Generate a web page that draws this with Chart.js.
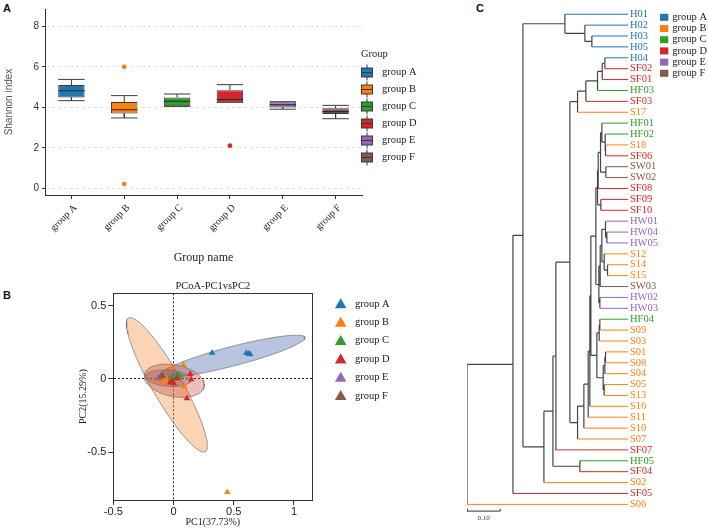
<!DOCTYPE html>
<html><head><meta charset="utf-8">
<script src="https://cdn.jsdelivr.net/npm/chart.js@4.4.0/dist/chart.umd.min.js"></script>
<style>
html,body{margin:0;padding:0;background:#fff;}
body{width:708px;height:529px;position:relative;overflow:hidden;}
.panel{position:absolute;}
.tag{position:absolute;font:bold 11px "Liberation Sans",Arial,sans-serif;color:#111;line-height:11px;}
</style></head><body>
<div class="tag" style="left:3px;top:3px">A</div>
<div class="tag" style="left:3px;top:290px">B</div>
<div class="tag" style="left:476px;top:3px">C</div>
<div class="panel" style="left:0;top:0;width:450px;height:275px"><canvas id="ca"></canvas></div>
<div class="panel" style="left:0;top:277px;width:450px;height:252px"><canvas id="cb"></canvas></div>
<div class="panel" style="left:440px;top:0;width:268px;height:529px"><canvas id="cc"></canvas></div>
<script>
// ---------- shared ----------
const groups = ['group A','group B','group C','group D','group E','group F'];
const groupColors = ['#1f77b4','#ff7f0e','#2ca02c','#d62728','#9467bd','#8c564b'];

// ---------- Panel A: Shannon index box plot ----------
const shannonMin    = [4.33, 3.48, 4.05, 4.25, 3.91, 3.44];
const shannonQ1     = [4.49, 3.70, 4.05, 4.25, 4.00, 3.67];
const shannonMedian = [4.82, 3.88, 4.30, 4.39, 4.13, 3.79];
const shannonQ3     = [5.10, 4.26, 4.49, 4.85, 4.25, 3.96];
const shannonMax    = [5.38, 4.58, 4.66, 5.12, 4.28, 4.10];
const outlierGroup  = [1, 1, 3];
const outlierValue  = [6.00, 0.22, 2.11];
const shannonRange  = [-0.32, 8.85];
const shannonStep   = 2;

// ---------- Panel B: PCoA ----------
const pcoaA = [[0.028,0.012],[0.321,0.178],[0.605,0.176],[0.625,0.172],[0.637,0.168]];
const pcoaB = [[-0.013,0.080],[0.083,0.095],[0.089,-0.052],[-0.083,-0.011],[-0.110,-0.018],[-0.069,0.016],
               [0.447,-0.772],[-0.095,-0.005],[-0.060,-0.002],[-0.100,0.008],[-0.075,0.005],[-0.120,-0.010]];
const pcoaC = [[0.041,0.027],[0.030,0.018],[-0.010,0.005]];
const pcoaD = [[0.138,0.034],[0.147,-0.002],[0.111,-0.132],[-0.013,-0.018],[0.028,0.005],[-0.030,-0.025],[0.002,-0.030]];
const pcoaE = [[-0.124,0.005],[-0.116,0.008],[-0.130,0.002]];
const pcoaF = [[-0.096,0.027],[-0.104,0.016],[-0.088,0.020]];
const pcoaPoints = [pcoaA, pcoaB, pcoaC, pcoaD, pcoaE, pcoaF];
// confidence ellipses: centre, semi-major vector, semi-minor vector (data units)
const ellipseCenter = [[0.490,0.155],[-0.055,-0.040],[0.015,0.012],[0.006,-0.012],[-0.120,0.006],[-0.044,0.005]];
const ellipseMajor  = [[0.601,0.1285],[0.318,-0.455],[0.060,0.008],[0.2486,-0.0409],[0.022,0.002],[0.190,-0.0136]];
const ellipseMinor  = [[0.0202,-0.064],[0.108,0.051],[-0.004,0.022],[-0.0249,-0.1057],[0.0,0.013],[-0.0058,-0.0545]];
const pc1Range = [-0.5, 1.152];
const pc2Range = [-0.825, 0.584];

// ---------- Panel C: dendrogram ----------
const leafLabels = ['H01','H02','H03','H05','H04','SF02','SF01','HF03','SF03','S17','HF01','HF02','S18','SF06',
  'SW01','SW02','SF08','SF09','SF10','HW01','HW04','HW05','S12','S14','S15','SW03','HW02','HW03','HF04','S09',
  'S03','S01','S08','S04','S05','S13','S16','S11','S10','S07','SF07','HF05','SF04','S02','SF05','S06'];
const treeDepth = 0.4835;
// [node, distance from root, child 1, child 2]
const treeNodes = [
 ['n0',0.000,'n1','S06'], ['n1',0.138,'n2','SF05'], ['n2',0.168,'nA','n3'],
 ['nA',0.294,'H01','nA2'], ['nA2',0.354,'H02','nA3'], ['nA3',0.375,'H03','H05'],
 ['n3',0.231,'n4','S02'], ['n4',0.258,'n5','n6'], ['n6',0.339,'HF05','SF04'],
 ['n5',0.267,'n7','SF07'], ['n7',0.309,'nB','nC'],
 ['nB',0.332,'nB2','S17'], ['nB2',0.357,'nB3','SF03'], ['nB3',0.392,'nB4','HF03'],
 ['nB4',0.406,'nB5','SF01'], ['nB5',0.414,'H04','SF02'],
 ['nC',0.332,'nD','S07'], ['nD',0.351,'nE','S10'], ['nE',0.364,'nF','S11'], ['nF',0.369,'nG','S16'],
 ['nG',0.372,'nP','nQ'], ['nP',0.387,'nP1','nP2'],
 ['nP1',0.392,'nP1a','nSF'], ['nSF',0.402,'SF09','SF10'], ['nP1a',0.394,'nP1b','SF08'],
 ['nP1b',0.401,'nP1c','nSW'], ['nSW',0.417,'SW01','SW02'], ['nP1c',0.405,'HF01','nHF'],
 ['nHF',0.415,'HF02','nS18'], ['nS18',0.416,'S18','SF06'],
 ['nP2',0.396,'nP2a','nHW23'], ['nHW23',0.399,'HW02','HW03'], ['nP2a',0.400,'nP2b','SW03'],
 ['nP2b',0.405,'nHW','nS12'], ['nHW',0.416,'HW01','nHW45'], ['nHW45',0.420,'HW04','HW05'],
 ['nS12',0.412,'S12','nS1415'], ['nS1415',0.422,'S14','S15'],
 ['nQ',0.390,'nQ1','nQ2'], ['nQ1',0.397,'nQ1a','S03'], ['nQ1a',0.399,'HF04','S09'],
 ['nQ2',0.409,'nQ2a','nQ2b'], ['nQ2a',0.414,'nQ2c','S04'], ['nQ2c',0.416,'S01','S08'], ['nQ2b',0.412,'S05','S13']
];
const scaleBarLength = 0.10;
const scaleBarRow = 45.62;

const SERIF = "'Liberation Serif','Times New Roman',serif";
const SANS = "'Liberation Sans',Arial,sans-serif";
Chart.defaults.animation = false;
Chart.defaults.events = [];
Chart.defaults.plugins.legend.display = false;
Chart.defaults.plugins.tooltip.enabled = false;
Chart.defaults.maintainAspectRatio = false;

// ===== Panel A =====
const whiskers = [], medians = [];
const hw = 0.25;
groups.forEach((g, i) => {
  whiskers.push({x:i,y:shannonQ3[i]},{x:i,y:shannonMax[i]},{x:i,y:null},
    {x:i-hw,y:shannonMax[i]},{x:i+hw,y:shannonMax[i]},{x:i,y:null},
    {x:i,y:shannonQ1[i]},{x:i,y:shannonMin[i]},{x:i,y:null},
    {x:i-hw,y:shannonMin[i]},{x:i+hw,y:shannonMin[i]},{x:i,y:null});
  medians.push({x:i-hw,y:shannonMedian[i]},{x:i+hw,y:shannonMedian[i]},{x:i,y:null});
});
const boxLegend = {
  id:'boxLegend',
  afterDraw(chart){
    const ctx = chart.ctx; ctx.save();
    ctx.font = '10.5px ' + SERIF; ctx.fillStyle = '#222'; ctx.textBaseline = 'middle';
    ctx.fillText('Group', 361, 54);
    groups.forEach((g, i) => {
      const cy = 72.5 + i * 17, cx = 367;
      ctx.strokeStyle = '#3a3a3a'; ctx.lineWidth = 1;
      ctx.beginPath(); ctx.moveTo(cx, cy - 8); ctx.lineTo(cx, cy + 8); ctx.stroke();
      ctx.fillStyle = groupColors[i]; ctx.fillRect(cx - 5.5, cy - 4.5, 11, 9);
      ctx.strokeRect(cx - 5.5, cy - 4.5, 11, 9);
      ctx.beginPath(); ctx.moveTo(cx - 5.5, cy); ctx.lineTo(cx + 5.5, cy); ctx.stroke();
      ctx.fillStyle = '#222'; ctx.fillText(g, 382, cy);
    });
    ctx.restore();
  }
};
new Chart(document.getElementById('ca'), {
  type:'bar',
  data:{ labels: groups, datasets:[
    {type:'bar', data: groups.map((g,i)=>[shannonQ1[i], shannonQ3[i]]), backgroundColor: groupColors,
     borderColor:'#3a3a3a', borderWidth:1, borderSkipped:false, barPercentage:0.5, categoryPercentage:1,
     grouped:false, order:2},
    {type:'line', xAxisID:'xl', data: whiskers, borderColor:'#3a3a3a', borderWidth:1, pointRadius:0, fill:false, spanGaps:false, order:1},
    {type:'line', xAxisID:'xl', data: medians, borderColor:'#2a2a2a', borderWidth:1.1, pointRadius:0, fill:false, spanGaps:false, order:0},
    {type:'scatter', xAxisID:'xl', data: outlierGroup.map((g,k)=>({x:g, y:outlierValue[k]})),
     pointBackgroundColor: outlierGroup.map(g=>groupColors[g]), pointBorderWidth:0, pointRadius:2.4, order:0}
  ]},
  plugins:[boxLegend],
  options:{
    layout:{padding:{left:0, top:3, right:88, bottom:0}},
    scales:{
      x:{type:'category', offset:true,
         grid:{offset:false, drawOnChartArea:false, drawTicks:true, tickLength:4, tickColor:'#333'},
         border:{color:'#333', width:1},
         ticks:{autoSkip:false, maxRotation:45, minRotation:45, padding:3, labelOffset:4, color:'#222', font:{family:SERIF, size:10}},
         title:{display:true, text:'Group name', color:'#222', font:{family:SERIF, size:12}, padding:{top:0, bottom:9.8}},
         afterFit:s=>{ s.height = 80; }},
      xl:{type:'linear', display:false, offset:false, min:-0.5, max:groups.length - 0.5, grid:{offset:false}},
      y:{type:'linear', min:shannonRange[0], max:shannonRange[1],
         ticks:{stepSize:shannonStep, includeBounds:false, color:'#333', padding:3, font:{family:SANS, size:10}},
         grid:{color:'#e2e2e2', tickColor:'#333', tickLength:3, lineWidth:1},
         border:{color:'#333', dash:[3,3]},
         title:{display:true, text:'Shannon index', color:'#555', font:{family:SANS, size:10}, padding:{top:3}},
         afterFit:s=>{ s.width = 45; }}
    }
  }
});

// ===== Panel B =====
function ellipsePoints(k){
  const pts = [];
  const c = ellipseCenter[k], u = ellipseMajor[k], v = ellipseMinor[k];
  for (let s = 0; s <= 96; s++) {
    const t = s / 96 * Math.PI * 2;
    pts.push({x: c[0] + u[0]*Math.cos(t) + v[0]*Math.sin(t), y: c[1] + u[1]*Math.cos(t) + v[1]*Math.sin(t)});
  }
  return pts;
}
const ellipseFill = ['rgba(70,100,170,0.38)','rgba(244,140,60,0.38)','rgba(44,160,44,0.30)',
                     'rgba(200,60,50,0.33)','rgba(148,103,189,0.35)','rgba(140,86,75,0.35)'];
const ellipseOrder = [15, 16, 12, 14, 11, 13];
const bDatasets = [];
groups.forEach((g, k) => {
  bDatasets.push({type:'line', data: ellipsePoints(k), showLine:true, fill:'shape', backgroundColor: ellipseFill[k],
    borderColor:'rgba(110,110,110,0.85)', borderWidth:0.8, pointRadius:0, tension:0, order: ellipseOrder[k]});
});
pcoaPoints.forEach((arr, k) => {
  bDatasets.push({type:'scatter', data: arr.map(p=>({x:p[0], y:p[1]})), pointStyle:'triangle', pointRadius:3.8,
    backgroundColor: groupColors[k], borderColor: groupColors[k], borderWidth:0, order: 6 - k});
});
const zeroGrid = c => (c.tick && c.tick.value === 0) ? '#222' : 'rgba(0,0,0,0)';
const plainNum = v => String(Number(v.toFixed(2)));
const triLegend = {
  id:'triLegend',
  afterDraw(chart){
    const ctx = chart.ctx; ctx.save();
    ctx.font = '10.5px ' + SERIF; ctx.textBaseline = 'middle';
    groups.forEach((g, i) => {
      const cx = 340.7, cy = 27 + i * 18.35, r = 6.7;
      ctx.fillStyle = groupColors[i];
      ctx.beginPath();
      for (let j = 0; j < 3; j++) {
        const a = j * 2 * Math.PI / 3;
        const px = cx + Math.sin(a) * r, py = cy - Math.cos(a) * r + 1;
        j ? ctx.lineTo(px, py) : ctx.moveTo(px, py);
      }
      ctx.closePath(); ctx.fill();
      ctx.fillStyle = '#222'; ctx.fillText(g, 355, cy);
    });
    ctx.restore();
  }
};
new Chart(document.getElementById('cb'), {
  type:'scatter',
  data:{datasets: bDatasets},
  plugins:[triLegend],
  options:{
    layout:{padding:{left:0, top:0, right:137.7, bottom:0}},
    plugins:{title:{display:true, text:'PCoA-PC1vsPC2', color:'#222', fullSize:false,
      font:{family:SERIF, size:10.5, weight:'normal'}, padding:{top:3.4, bottom:0.3}}},
    scales:{
      x:{type:'linear', min:pc1Range[0], max:pc1Range[1],
         ticks:{stepSize:0.5, includeBounds:false, color:'#222', padding:0, font:{family:SANS, size:11}, callback:plainNum},
         grid:{color:zeroGrid, tickColor:'#333', tickLength:5, lineWidth:1},
         border:{color:'#333', dash:[2,2]},
         title:{display:true, text:'PC1(37.73%)', color:'#222', font:{family:SERIF, size:10}, padding:{top:0, bottom:1.1}},
         afterFit:s=>{ s.height = 29; }},
      y:{type:'linear', min:pc2Range[0], max:pc2Range[1],
         ticks:{stepSize:0.5, includeBounds:false, color:'#222', padding:2, font:{family:SANS, size:11}, callback:plainNum},
         grid:{color:zeroGrid, tickColor:'#333', tickLength:5, lineWidth:1},
         border:{color:'#333', dash:[2,2]},
         title:{display:true, text:'PC2(15.29%)', color:'#222', font:{family:SERIF, size:10}, padding:{top:77}},
         afterFit:s=>{ s.width = 113.3; }},
      xt:{type:'linear', position:'top', min:pc1Range[0], max:pc1Range[1], ticks:{display:false},
          grid:{display:false, drawTicks:false}, border:{color:'#333'}, afterFit:s=>{ s.height = 0; }},
      yr:{type:'linear', position:'right', min:pc2Range[0], max:pc2Range[1], ticks:{display:false},
          grid:{display:false, drawTicks:false}, border:{color:'#333'}, afterFit:s=>{ s.width = 0; }}
    }
  }
});

// ===== Panel C =====
function groupOfLeaf(name){
  if (/^HF/.test(name)) return 2;
  if (/^SF/.test(name)) return 3;
  if (/^HW/.test(name)) return 4;
  if (/^SW/.test(name)) return 5;
  if (/^H\d/.test(name)) return 0;
  return 1;
}
const nodeMap = {};
treeNodes.forEach(n => { nodeMap[n[0]] = n; });
function yOf(name){
  if (!nodeMap[name]) return leafLabels.indexOf(name);
  const n = nodeMap[name];
  return (yOf(n[2]) + yOf(n[3])) / 2;
}
function xOf(name){ return nodeMap[name] ? nodeMap[name][1] : treeDepth; }
const internalSegs = [];
const leafSegs = groups.map(() => []);
treeNodes.forEach(n => {
  const d = n[1], ya = yOf(n[2]), yb = yOf(n[3]);
  internalSegs.push({x:d, y:ya}, {x:d, y:yb}, {x:d, y:null});
  [n[2], n[3]].forEach(c => {
    const yc = yOf(c);
    if (nodeMap[c]) internalSegs.push({x:d, y:yc}, {x:xOf(c), y:yc}, {x:d, y:null});
    else leafSegs[groupOfLeaf(c)].push({x:d, y:yc}, {x:treeDepth, y:yc}, {x:d, y:null});
  });
});
const cDatasets = [{type:'line', data: internalSegs, borderColor:'#444', borderWidth:1.2, pointRadius:0, fill:false, spanGaps:false, order:1}];
leafSegs.forEach((segs, k) => cDatasets.push({type:'line', data: segs, borderColor: groupColors[k], borderWidth:1,
  pointRadius:0, fill:false, spanGaps:false, order:0}));
cDatasets.push({type:'line', data:[{x:0, y:scaleBarRow-0.22},{x:0, y:scaleBarRow},{x:scaleBarLength, y:scaleBarRow},{x:scaleBarLength, y:scaleBarRow-0.22}],
  borderColor:'#333', borderWidth:1, pointRadius:0, fill:false, order:0});
const treeExtras = {
  id:'treeExtras',
  afterDraw(chart){
    const ctx = chart.ctx, xs = chart.scales.x, ys = chart.scales.y;
    ctx.save();
    ctx.font = '7px ' + SERIF; ctx.fillStyle = '#333'; ctx.textAlign = 'center'; ctx.textBaseline = 'middle';
    ctx.fillText(scaleBarLength.toFixed(2), xs.getPixelForValue(scaleBarLength/2), ys.getPixelForValue(scaleBarRow) + 7);
    ctx.textAlign = 'left'; ctx.font = '10.5px ' + SERIF;
    groups.forEach((g, i) => {
      const cy = 17.3 + i * 11.2;
      ctx.fillStyle = groupColors[i]; ctx.fillRect(220, cy - 3.5, 8.3, 7);
      ctx.fillStyle = '#222'; ctx.fillText(g, 232.3, cy);
    });
    ctx.restore();
  }
};
new Chart(document.getElementById('cc'), {
  type:'scatter',
  data:{datasets: cDatasets},
  plugins:[treeExtras],
  options:{
    layout:{padding:{left:27, top:8.78, right:0, bottom:1.3}},
    scales:{
      x:{type:'linear', display:false, min:0, max:treeDepth},
      y:{type:'linear', position:'right', reverse:true, min:-0.5, max:leafLabels.length + 0.5,
         afterBuildTicks:s=>{ s.ticks = leafLabels.map((l, i) => ({value:i})); },
         ticks:{autoSkip:false, padding:2, font:{family:SERIF, size:10.5},
                callback:v => leafLabels[v] !== undefined ? leafLabels[v] : '',
                color:c => groupColors[groupOfLeaf(leafLabels[c.tick ? c.tick.value : c.index] || 'S')]},
         grid:{display:false, drawTicks:false}, border:{display:false},
         afterFit:s=>{ s.width = 80; }}
    }
  }
});
</script>
</body></html>
